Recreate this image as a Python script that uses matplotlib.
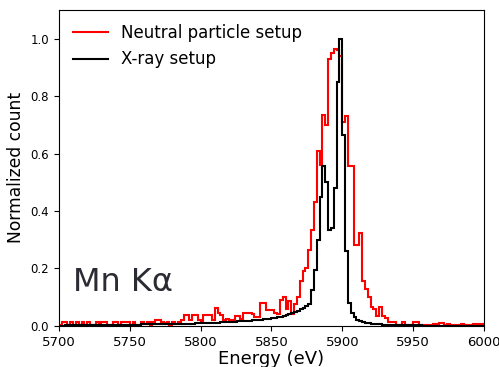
"""Mn K-alpha spectra: neutral particle setup vs X-ray setup."""

import matplotlib
matplotlib.use("Agg")
import matplotlib.pyplot as plt
import numpy as np

# 2 eV bins from 5700 to 6000 eV
bin_edges = np.arange(5700, 6002, 2)

neutral_counts = [
    0.004, 0.012, 0.015, 0.004, 0.015, 0.004, 0.012, 0.003, 0.012, 0.003,
    0.014, 0.004, 0.003, 0.012, 0.003, 0.012, 0.012, 0.004, 0.003, 0.012,
    0.015, 0.004, 0.012, 0.012, 0.015, 0.004, 0.012, 0.004, 0.003, 0.012,
    0.008, 0.012, 0.004, 0.012, 0.020, 0.020, 0.012, 0.010, 0.015, 0.004,
    0.012, 0.008, 0.015, 0.022, 0.038, 0.038, 0.020, 0.038, 0.038, 0.022,
    0.012, 0.038, 0.038, 0.038, 0.022, 0.062, 0.045, 0.038, 0.022, 0.025,
    0.020, 0.020, 0.035, 0.035, 0.025, 0.045, 0.045, 0.045, 0.040, 0.030,
    0.030, 0.080, 0.080, 0.055, 0.055, 0.055, 0.045, 0.040, 0.090, 0.100,
    0.060, 0.085, 0.040, 0.075, 0.100, 0.155, 0.190, 0.200, 0.265, 0.335,
    0.430, 0.610, 0.560, 0.735, 0.700, 0.930, 0.950, 0.965, 0.960, 0.940,
    0.710, 0.730, 0.555, 0.555, 0.280, 0.280, 0.325, 0.155, 0.130, 0.100,
    0.067, 0.060, 0.035, 0.065, 0.035, 0.028, 0.012, 0.012, 0.012, 0.004,
    0.004, 0.012, 0.003, 0.003, 0.003, 0.012, 0.012, 0.003, 0.003, 0.004,
    0.004, 0.003, 0.008, 0.008, 0.010, 0.010, 0.004, 0.008, 0.004, 0.003,
    0.004, 0.004, 0.008, 0.003, 0.004, 0.003, 0.008, 0.004, 0.008, 0.008,
]

xray_counts = [
    0.0010, 0.0012, 0.0014, 0.0016, 0.0018, 0.0020, 0.0022, 0.0024, 0.0026, 0.0028,
    0.0030, 0.0031, 0.0032, 0.0033, 0.0034, 0.0035, 0.0036, 0.0037, 0.0038, 0.0039,
    0.0040, 0.0041, 0.0042, 0.0043, 0.0044, 0.0045, 0.0046, 0.0047, 0.0048, 0.0049,
    0.0050, 0.0051, 0.0052, 0.0053, 0.0054, 0.0055, 0.0056, 0.0057, 0.0058, 0.0059,
    0.0060, 0.0063, 0.0066, 0.0070, 0.0073, 0.0076, 0.0080, 0.0083, 0.0086, 0.0090,
    0.0093, 0.0096, 0.0100, 0.0103, 0.0106, 0.0110, 0.0115, 0.0120, 0.0125, 0.0130,
    0.0135, 0.0140, 0.0148, 0.0155, 0.0160, 0.0168, 0.0175, 0.0183, 0.0190, 0.0200,
    0.0210, 0.0220, 0.0230, 0.0240, 0.0250, 0.0260, 0.0280, 0.0300, 0.0320, 0.0340,
    0.0370, 0.0400, 0.0440, 0.0480, 0.0530, 0.0580, 0.0640, 0.0700, 0.0750, 0.1250,
    0.1950, 0.3000, 0.4500, 0.5550, 0.5000, 0.3350, 0.3400, 0.4800, 0.8500, 1.0000,
    0.6650, 0.2600, 0.0800, 0.0450, 0.0300, 0.0220, 0.0170, 0.0130, 0.0110, 0.0090,
    0.0075, 0.0065, 0.0055, 0.0050, 0.0045, 0.0040, 0.0035, 0.0030, 0.0030, 0.0025,
    0.0025, 0.0020, 0.0020, 0.0020, 0.0018, 0.0016, 0.0015, 0.0014, 0.0013, 0.0012,
    0.0011, 0.0010, 0.0010, 0.0010, 0.0009, 0.0009, 0.0008, 0.0008, 0.0008, 0.0007,
    0.0007, 0.0007, 0.0006, 0.0006, 0.0006, 0.0006, 0.0005, 0.0005, 0.0005, 0.0005,
]

fig = plt.figure(figsize=(4.99, 3.67), dpi=100)
ax = fig.add_axes([0.118, 0.112, 0.852, 0.861])

ax.stairs(neutral_counts, bin_edges, color="#ff0000", lw=1.5, label="Neutral particle setup")
ax.stairs(xray_counts, bin_edges, color="black", lw=1.5, label="X-ray setup")

ax.set_xlim(5700, 6000)
ax.set_ylim(0, 1.1)
ax.set_xticks(np.arange(5700, 6001, 50))
ax.set_yticks(np.arange(0, 1.01, 0.2))
ax.tick_params(axis="x", labelsize=9.5)
ax.tick_params(axis="y", labelsize=8.5)
ax.set_xlabel("Energy (eV)", fontsize=13, labelpad=1)
ax.set_ylabel("Normalized count", fontsize=12.3)

ax.text(0.033, 0.11, "Mn Kα", transform=ax.transAxes, fontsize=23, color="#2b2b33")

ax.legend(loc="upper left", frameon=False, fontsize=12,
          handlelength=2.1, borderaxespad=0.45, bbox_to_anchor=(0.0, 1.0))

fig.savefig("out.png", dpi=100)
